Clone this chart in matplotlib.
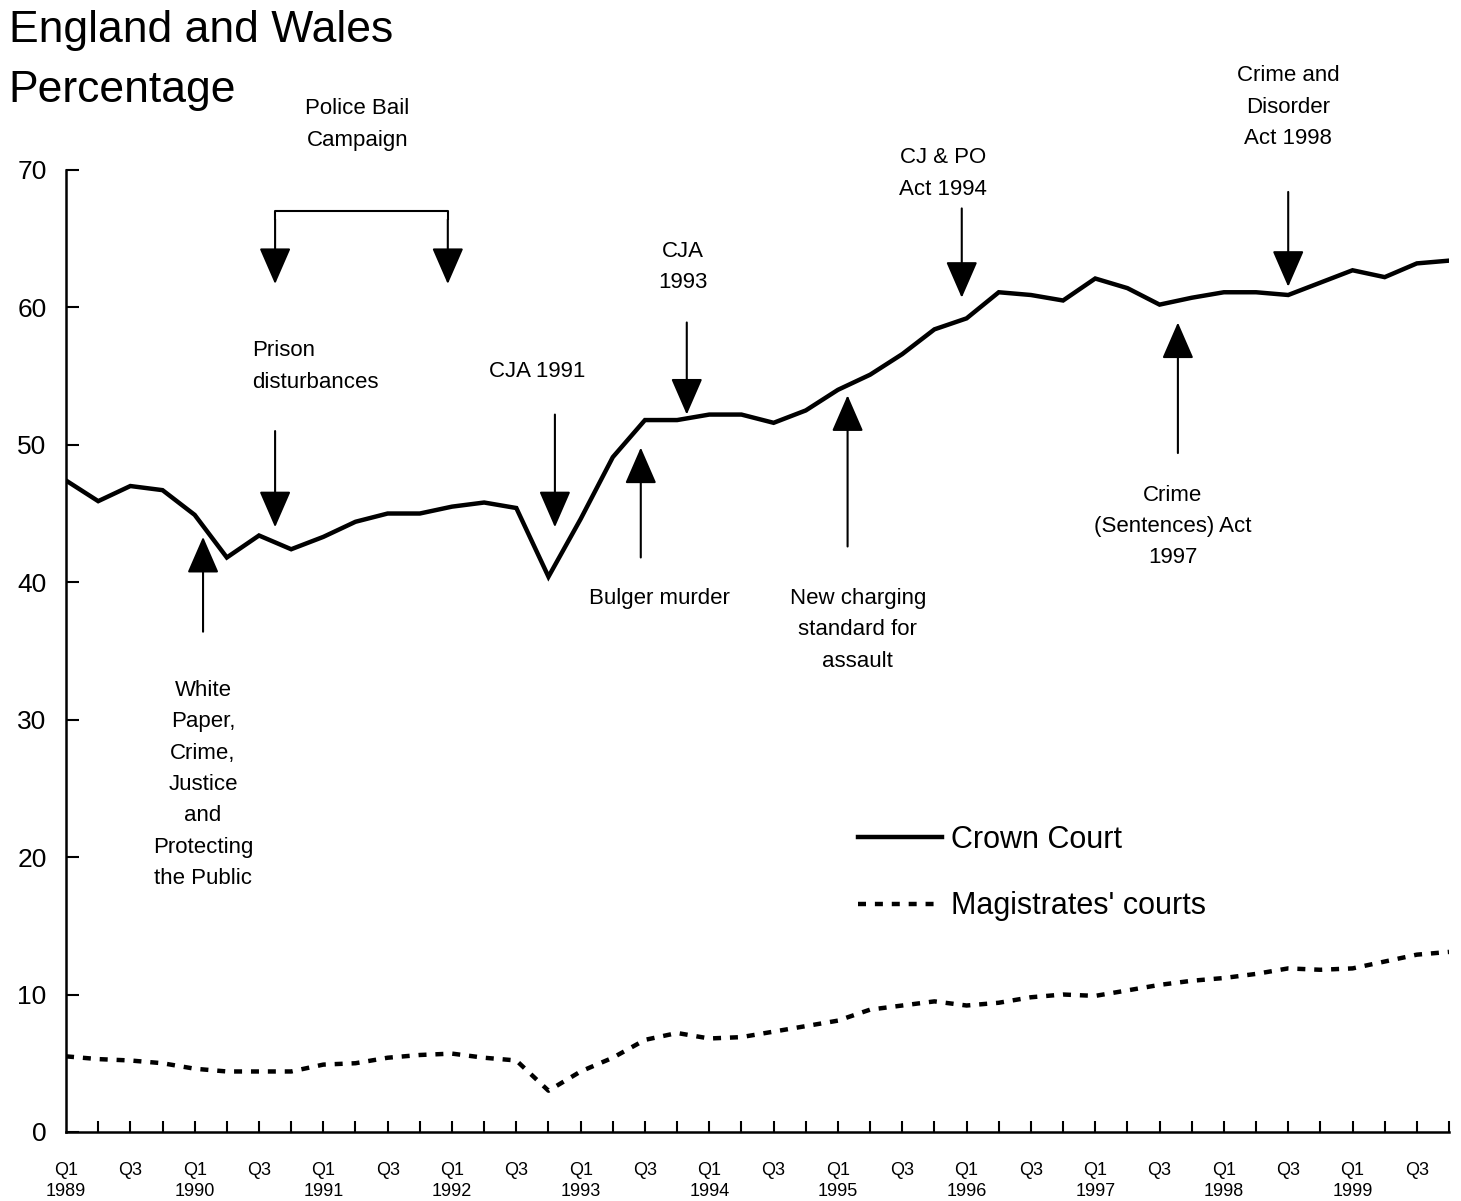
"""
Crown Court vs magistrates' courts custody rates, England and Wales, 1989-1999.
"""

import numpy as np
import matplotlib
matplotlib.use("Agg")
import matplotlib.pyplot as plt

plt.rcParams["font.family"] = ["Liberation Sans Narrow", "Liberation Sans", "DejaVu Sans"]

# quarterly series, Q1 1989 .. Q4 1999
years = list(range(1989, 2000))
quarters = [f"Q{q}" for q in range(1, 5)]

crown_court = [
    47.4, 45.9, 47.0, 46.7, 44.9, 41.8, 43.4, 42.4, 43.3, 44.4, 45.0,
    45.0, 45.5, 45.8, 45.4, 40.4, 44.6, 49.1, 51.8, 51.8, 52.2, 52.2,
    51.6, 52.5, 54.0, 55.1, 56.6, 58.4, 59.2, 61.1, 60.9, 60.5, 62.1,
    61.4, 60.2, 60.7, 61.1, 61.1, 60.9, 61.8, 62.7, 62.2, 63.2, 63.4,
]
magistrates = [
    5.5, 5.3, 5.2, 5.0, 4.6, 4.4, 4.4, 4.4, 4.9, 5.0, 5.4,
    5.6, 5.7, 5.4, 5.2, 3.0, 4.4, 5.4, 6.7, 7.2, 6.8, 6.9,
    7.3, 7.7, 8.1, 8.9, 9.2, 9.5, 9.2, 9.4, 9.8, 10.0, 9.9,
    10.3, 10.7, 11.0, 11.2, 11.5, 11.9, 11.8, 11.9, 12.4, 12.9, 13.1,
]

# events: (label, text x, text top y, arrow x, arrow tail y, arrow tip y, alignment)
events = [
    ("White\nPaper,\nCrime,\nJustice\nand\nProtecting\nthe Public", 4.26, 32.9, 4.26, 36.4, 43.3, "center"),
    ("Prison\ndisturbances", 5.78, 57.6, 6.5, 51.0, 44.0, "left"),
    ("CJA 1991", 14.65, 56.1, 15.2, 52.2, 44.0, "center"),
    ("Bulger murder", 18.46, 39.6, 17.87, 41.8, 49.8, "center"),
    ("CJA\n1993", 19.18, 64.85, 19.3, 58.9, 52.2, "center"),
    ("New charging\nstandard for\nassault", 24.62, 39.6, 24.3, 42.6, 53.6, "center"),
    ("CJ & PO\nAct 1994", 27.26, 71.65, 27.85, 67.2, 60.7, "center"),
    ("Crime\n(Sentences) Act\n1997", 34.41, 47.1, 34.57, 49.4, 58.9, "center"),
    ("Crime and\nDisorder\nAct 1998", 37.99, 77.6, 38.0, 68.4, 61.5, "center"),
]
bail_x = [6.5, 11.87]
bail_top = 67.0
bail_tip = 61.7
title_lines = ["England and Wales", "Percentage"]


def main():
    x = np.arange(len(crown_court))
    fig = plt.figure(figsize=(14.61, 12.01), dpi=100)
    ax = fig.add_axes([0.0452, 0.0575, 0.9466, 0.801])

    ax.plot(x, crown_court, color="black", lw=3.2, solid_joinstyle="miter",
            label="Crown Court")
    ax.plot(x, magistrates, color="black", lw=3.2, linestyle=(0, (1.8, 2.0)),
            label="Magistrates' courts")

    ax.set_xlim(0, len(x) - 1)
    ax.set_ylim(0, 70)
    ax.set_yticks(range(0, 71, 10))
    ax.tick_params(axis="y", direction="in", length=9, width=1.5, labelsize=19, pad=14)

    ax.set_xticks(x[1:])
    ax.tick_params(axis="x", direction="in", length=8, width=1.5, labelbottom=False)
    for i in range(0, len(x), 2):
        q = quarters[i % 4]
        label = f"{q}\n{years[i // 4]}" if i % 4 == 0 else q
        ax.text(i, -2.2, label, ha="center", va="top", fontsize=13,
                linespacing=1.3, clip_on=False)

    for side in ("top", "right"):
        ax.spines[side].set_visible(False)
    for side in ("left", "bottom"):
        ax.spines[side].set_linewidth(1.8)

    arrow = dict(arrowstyle="-|>,head_length=1.15,head_width=0.5", lw=1.5,
                 color="black", mutation_scale=20, shrinkA=0, shrinkB=0)
    for label, tx, ty, axx, tail, tip, ha in events:
        ax.text(tx, ty, label, ha=ha, va="top", fontsize=16, linespacing=1.65,
                clip_on=False)
        ax.annotate("", xy=(axx, tip), xytext=(axx, tail), arrowprops=arrow,
                    annotation_clip=False)

    # Police Bail Campaign bracket
    ax.plot([bail_x[0], bail_x[0], bail_x[1], bail_x[1]],
            [bail_top - 0.6, bail_top, bail_top, bail_top - 0.6],
            color="black", lw=1.5, clip_on=False)
    for bx in bail_x:
        ax.annotate("", xy=(bx, bail_tip), xytext=(bx, bail_top - 0.6),
                    arrowprops=arrow, annotation_clip=False)
    ax.text(np.mean(bail_x) - 0.12, 75.2, "Police Bail\nCampaign", ha="center",
            va="top", fontsize=16, linespacing=1.65, clip_on=False)

    # title as two separate lines
    fig.text(0.006, 0.975, title_lines[0], ha="left", va="center", fontsize=32)
    fig.text(0.006, 0.925, title_lines[1], ha="left", va="center", fontsize=32)

    ax.legend(loc="upper left", bbox_to_anchor=(0.564, 0.332), frameon=False,
              fontsize=22, handlelength=2.75, handletextpad=0.3, labelspacing=1.2,
              borderaxespad=0)

    fig.savefig("out.png", dpi=100)
    plt.close(fig)


if __name__ == "__main__":
    main()
